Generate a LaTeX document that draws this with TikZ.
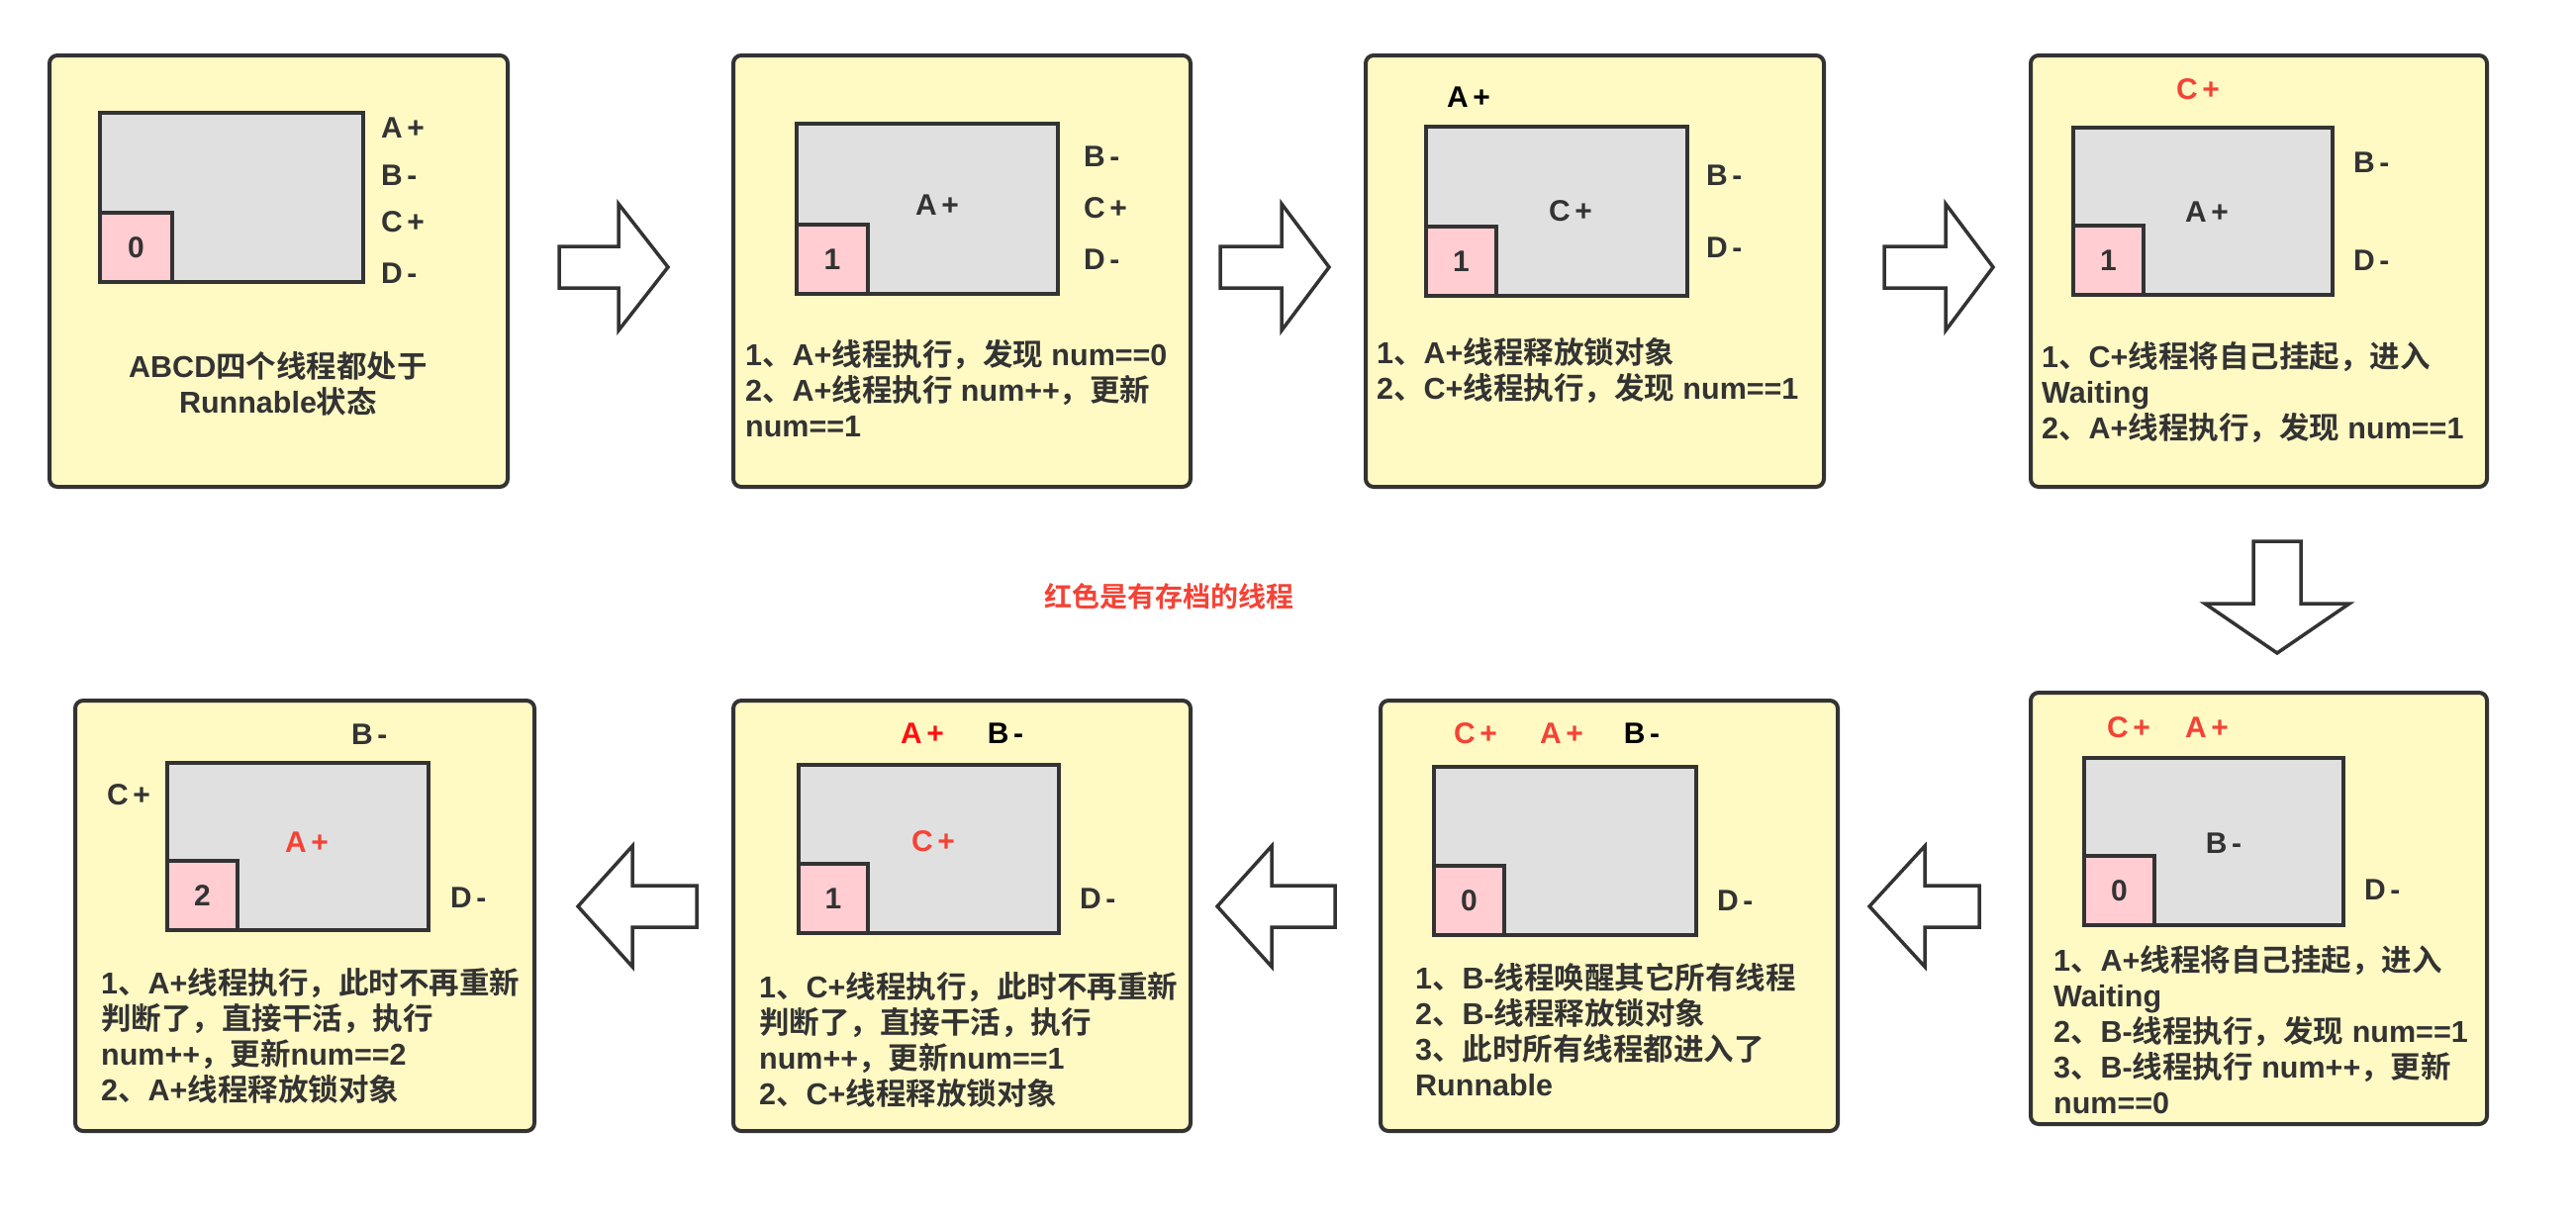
\documentclass[tikz,border=0pt]{standalone}
\usepackage{fontspec}
\setmainfont{Liberation Sans}
\newfontfamily\cjk{Noto Sans CJK SC}[BoldFont={Noto Sans CJK SC Bold}]
\newcommand{\zh}[1]{{\cjk #1}}
\definecolor{panelY}{HTML}{FFF9C4}
\definecolor{boxG}{HTML}{E0E0E0}
\definecolor{pinkB}{HTML}{FFCDD2}
\definecolor{lineC}{HTML}{333333}
\definecolor{redT}{HTML}{F44336}
\definecolor{pureR}{HTML}{FF1010}
\tikzset{
  panel/.style={draw=lineC, line width=4pt, fill=panelY, rounded corners=8pt,
    minimum width=462pt, minimum height=436pt, inner sep=0pt},
  graybox/.style={draw=lineC, line width=4pt, fill=boxG, anchor=north west,
    minimum width=264pt, minimum height=171pt, inner sep=0pt},
  pinkbox/.style={draw=lineC, line width=4pt, fill=pinkB, anchor=south west,
    minimum width=71pt, minimum height=70pt, inner sep=0pt,
    font=\fontsize{30pt}{36pt}\selectfont\bfseries, text=lineC},
  lbl/.style={inner sep=0pt, font=\fontsize{30pt}{36pt}\selectfont\bfseries, text=lineC},
  body/.style={inner sep=0pt, anchor=west, align=left,
    font=\fontsize{30.5pt}{36pt}\selectfont\bfseries, text=lineC},
  blockarrow/.style={draw=lineC, line width=3.5pt, fill=white, line join=miter},
}
\newcommand{\pl}[1]{#1\hspace{0.15em}+}
\newcommand{\mi}[1]{#1\hspace{0.15em}-}
\begin{document}
\begin{tikzpicture}[x=1pt, y=-1pt]
\useasboundingbox (0,0) rectangle (2603,1235);
\fill[white] (0,0) rectangle (2603,1235);

% ---------- panels ----------
\node[panel, minimum width=463pt] (p1) at (281.5,274) {};
\node[panel] (p2) at (972,274) {};
\node[panel, minimum width=463pt] (p3) at (1611.5,274) {};
\node[panel, minimum width=461pt] (p4) at (2282.5,274) {};
\node[panel, minimum width=461pt] (p5) at (2282.5,918) {};
\node[panel, minimum height=435pt] (p6) at (1626,925.5) {};
\node[panel, minimum height=435pt] (p7) at (972,925.5) {};
\node[panel, minimum width=464pt, minimum height=435pt] (p8) at (308,925.5) {};

% ---------- gray + pink boxes ----------
\node[graybox, minimum width=266pt] (g1) at (99,112) {};
\node[pinkbox, minimum width=73pt] (k1) at (g1.south west) {0};
\node[graybox, minimum height=172pt] (g2) at (803,123) {};
\node[pinkbox, minimum width=72pt] (k2) at (g2.south west) {1};
\node[graybox] (g3) at (1439,126) {};
\node[pinkbox] (k3) at (g3.south west) {1};
\node[graybox, minimum width=262pt, minimum height=169pt] (g4) at (2093,127) {};
\node[pinkbox] (k4) at (g4.south west) {1};
\node[graybox, minimum width=262pt, minimum height=169pt] (g5) at (2104,764) {};
\node[pinkbox] (k5) at (g5.south west) {0};
\node[graybox, minimum width=265pt, minimum height=170pt] (g6) at (1447,773) {};
\node[pinkbox] (k6) at (g6.south west) {0};
\node[graybox, minimum width=263pt, minimum height=170pt] (g7) at (805,771) {};
\node[pinkbox, minimum width=70pt] (k7) at (g7.south west) {1};
\node[graybox, minimum width=264pt, minimum height=169pt] (g8) at (167,769) {};
\node[pinkbox] (k8) at (g8.south west) {2};

% ---------- labels ----------
% panel 1
\node[lbl, anchor=west] (l1a) at (385,129) {\pl{A}};
\node[lbl, anchor=west] (l1b) at (385,177) {\mi{B}};
\node[lbl, anchor=west] (l1c) at (385,224) {\pl{C}};
\node[lbl, anchor=west] (l1d) at (385,276) {\mi{D}};
% panel 2
\node[lbl] (l2a) at (947,207) {\pl{A}};
\node[lbl, anchor=west] (l2b) at (1095,158) {\mi{B}};
\node[lbl, anchor=west] (l2c) at (1095,210) {\pl{C}};
\node[lbl, anchor=west] (l2d) at (1095,262) {\mi{D}};
% panel 3
\node[lbl, text=black] (l3a) at (1484,98) {\pl{A}};
\node[lbl] (l3c) at (1587,213) {\pl{C}};
\node[lbl, anchor=west] (l3b) at (1724,177) {\mi{B}};
\node[lbl, anchor=west] (l3d) at (1724,250) {\mi{D}};
% panel 4
\node[lbl, text=redT] (l4c) at (2221,90) {\pl{C}};
\node[lbl] (l4a) at (2230,214) {\pl{A}};
\node[lbl, anchor=west] (l4b) at (2378,164) {\mi{B}};
\node[lbl, anchor=west] (l4d) at (2378,263) {\mi{D}};
% panel 5
\node[lbl, text=redT] (l5c) at (2151,735) {\pl{C}};
\node[lbl, text=redT] (l5a) at (2230,735) {\pl{A}};
\node[lbl] (l5b) at (2247,852) {\mi{B}};
\node[lbl, anchor=west] (l5d) at (2389,899) {\mi{D}};
% panel 6
\node[lbl, text=redT] (l6c) at (1491,741) {\pl{C}};
\node[lbl, text=redT] (l6a) at (1578,741) {\pl{A}};
\node[lbl, text=black] (l6b) at (1659,741) {\mi{B}};
\node[lbl, anchor=west] (l6d) at (1735,910) {\mi{D}};
% panel 7
\node[lbl, text=pureR] (l7a) at (932,741) {\pl{A}};
\node[lbl, text=black] (l7b) at (1016,741) {\mi{B}};
\node[lbl, text=redT] (l7c) at (943,850) {\pl{C}};
\node[lbl, anchor=west] (l7d) at (1091,908) {\mi{D}};
% panel 8
\node[lbl, anchor=west] (l8b) at (355,742) {\mi{B}};
\node[lbl, anchor=west] (l8c) at (108,803) {\pl{C}};
\node[lbl, text=redT] (l8a) at (310,851) {\pl{A}};
\node[lbl, anchor=west] (l8d) at (455,907) {\mi{D}};

% ---------- body texts ----------
\node[body, anchor=center, align=center] (t1) at (281,388)
  {ABCD\zh{四个线程都处于}\\Runnable\zh{状态}};
\node[body] (t2) at (753,393)
  {1\zh{、}A+\zh{线程执行，发现} num==0\\2\zh{、}A+\zh{线程执行} num++\zh{，更新}\\num==1};
\node[body] (t3) at (1391,375)
  {1\zh{、}A+\zh{线程释放锁对象}\\2\zh{、}C+\zh{线程执行，发现} num==1};
\node[body] (t4) at (2063,397)
  {1\zh{、}C+\zh{线程将自己挂起，进入}\\Waiting\\2\zh{、}A+\zh{线程执行，发现} num==1};
\node[body] (t5) at (2075,1041)
  {1\zh{、}A+\zh{线程将自己挂起，进入}\\Waiting\\2\zh{、}B-\zh{线程执行，发现} num==1\\3\zh{、}B-\zh{线程执行} num++\zh{，更新}\\num==0};
\node[body] (t6) at (1430,1041)
  {1\zh{、}B-\zh{线程唤醒其它所有线程}\\2\zh{、}B-\zh{线程释放锁对象}\\3\zh{、此时所有线程都进入了}\\Runnable};
\node[body] (t7) at (767,1051)
  {1\zh{、}C+\zh{线程执行，此时不再重新}\\\zh{判断了，直接干活，执行}\\num++\zh{，更新}num==1\\2\zh{、}C+\zh{线程释放锁对象}};
\node[body] (t8) at (102,1047)
  {1\zh{、}A+\zh{线程执行，此时不再重新}\\\zh{判断了，直接干活，执行}\\num++\zh{，更新}num==2\\2\zh{、}A+\zh{线程释放锁对象}};

% ---------- note ----------
\node[inner sep=0pt, font=\fontsize{28pt}{32pt}\selectfont\bfseries\cjk, text=redT] (note) at (1181,603) {红色是有存档的线程};

% ---------- block arrows ----------
\draw[blockarrow] (565,249)--(625,249)--(625,206)--(675,270)--(625,334)--(625,291)--(565,291)--cycle;
\draw[blockarrow] (1233,249)--(1295,249)--(1295,206)--(1343,270)--(1295,334)--(1295,291)--(1233,291)--cycle;
\draw[blockarrow] (1904,249)--(1966,249)--(1966,206)--(2014,270)--(1966,334)--(1966,291)--(1904,291)--cycle;
\draw[blockarrow] (2277,547)--(2277,610)--(2228,610)--(2301,660)--(2374,610)--(2325,610)--(2325,547)--cycle;
\draw[blockarrow] (2000,895)--(1945,895)--(1945,855)--(1889,916)--(1945,977)--(1945,937)--(2000,937)--cycle;
\draw[blockarrow] (1349,895)--(1285,895)--(1285,855)--(1230,916)--(1285,977)--(1285,937)--(1349,937)--cycle;
\draw[blockarrow] (704,895)--(639,895)--(639,855)--(584,916)--(639,977)--(639,937)--(704,937)--cycle;
\end{tikzpicture}
\end{document}
